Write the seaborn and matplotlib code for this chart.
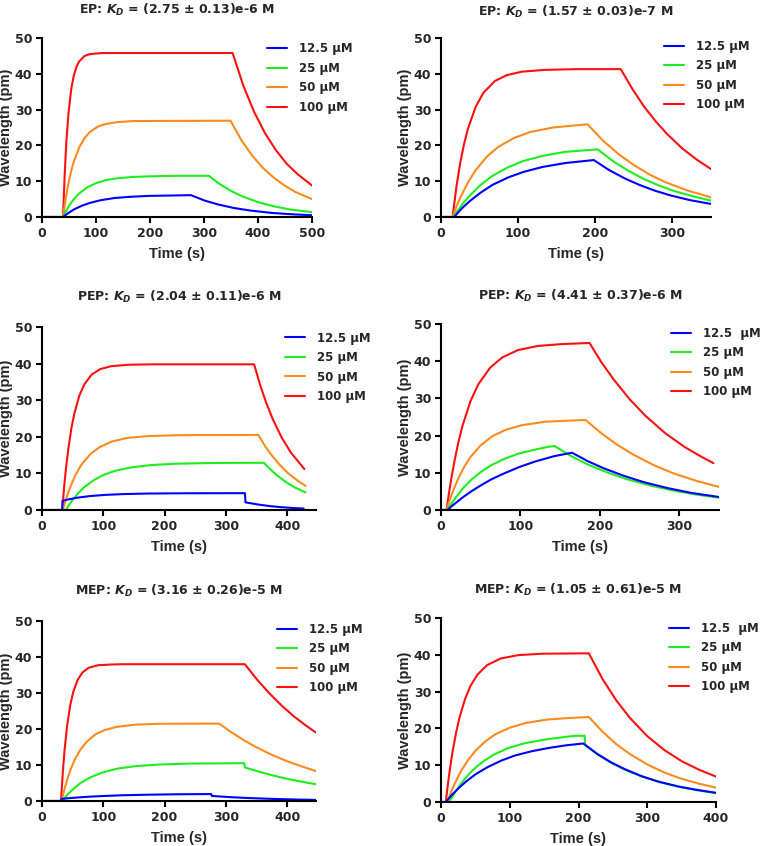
import matplotlib
matplotlib.use("Agg")
import matplotlib.pyplot as plt
import seaborn as sns

# ---- data: (time s, wavelength pm) ----
# EP, left
ep_a_blue = [(0, 0), (39, 0), (49, 1.15), (59, 2.1), (74, 3.16), (89, 3.95), (109, 4.7), (134, 5.3),
             (164, 5.65), (199, 5.9), (239, 6.0), (276, 6.1), (301, 4.6), (326, 3.5), (356, 2.5),
             (386, 1.8), (426, 1.13), (466, 0.73), (500, 0.5)]
ep_a_green = [(0, 0), (39, 0), (49, 2.9), (59, 5.0), (69, 6.6), (84, 8.3), (99, 9.4), (119, 10.35),
              (139, 10.8), (169, 11.2), (209, 11.4), (250, 11.5), (309, 11.5), (329, 9.2), (349, 7.35),
              (369, 5.9), (399, 4.2), (429, 3.0), (459, 2.1), (500, 1.35)]
ep_a_orange = [(0, 0), (39, 0), (44, 5.2), (49, 9.4), (54, 12.8), (59, 15.5), (69, 19.5), (79, 22.1),
               (89, 23.8), (104, 25.3), (119, 26.0), (139, 26.5), (169, 26.8), (349, 26.9), (369, 21.5),
               (389, 17.2), (409, 13.7), (429, 11.0), (449, 8.8), (469, 7.0), (500, 5.0)]
ep_a_red = [(0, 0), (39, 0), (42, 11.9), (45, 20.7), (49, 28.9), (54, 35.6), (59, 39.6), (64, 42.0),
            (69, 43.5), (79, 45.0), (89, 45.5), (110, 45.8), (353, 45.8), (373, 36.6), (393, 29.3),
            (413, 23.4), (433, 18.7), (453, 14.9), (473, 12.0), (500, 8.8)]

# EP, right
ep_b_blue = [(0, 0), (17, 0), (22, 1.2), (27, 2.4), (37, 4.4), (52, 6.9), (67, 9.0), (87, 11.05),
             (107, 12.6), (132, 14.0), (162, 15.1), (198, 15.9), (218, 13.1), (238, 10.8), (258, 8.9),
             (278, 7.3), (298, 6.0), (323, 4.7), (350, 3.65)]
ep_b_green = [(0, 0), (16, 0), (21, 1.6), (26, 3.1), (36, 5.7), (51, 8.9), (66, 11.4), (86, 13.8),
              (106, 15.6), (131, 17.05), (161, 18.2), (203, 18.9), (223, 15.6), (243, 12.9), (263, 10.6),
              (283, 8.75), (303, 7.2), (328, 5.7), (350, 4.6)]
ep_b_orange = [(0, 0), (15, 0), (20, 2.9), (25, 5.4), (35, 9.7), (45, 13.1), (60, 17.0), (75, 19.7),
               (95, 22.1), (115, 23.7), (145, 25.0), (190, 25.9), (210, 21.3), (230, 17.6), (250, 14.5),
               (270, 11.9), (290, 9.8), (320, 7.35), (350, 5.5)]
ep_b_red = [(0, 0), (15, 0), (20, 8.5), (25, 15.2), (30, 20.5), (35, 24.7), (45, 30.8), (55, 34.7),
            (70, 38.0), (85, 39.6), (105, 40.6), (135, 41.1), (175, 41.3), (233, 41.3), (248, 35.8),
            (263, 30.9), (278, 26.8), (293, 23.2), (313, 19.1), (333, 15.8), (350, 13.4)]

# PEP, left
pep_a_blue = [(0, 0), (33, 0), (33.5, 2.5), (43, 2.9), (58, 3.37), (78, 3.8), (103, 4.13), (133, 4.35),
              (173, 4.5), (233, 4.57), (331, 4.6), (332, 2.1), (353, 1.48), (373, 1.04), (393, 0.73),
              (413, 0.51), (427, 0.4)]
pep_a_green = [(0, 0), (39, 0), (44, 1.35), (49, 2.55), (59, 4.6), (69, 6.25), (84, 8.1), (99, 9.5),
               (119, 10.7), (144, 11.6), (179, 12.3), (219, 12.65), (279, 12.85), (362, 12.9), (372, 11.2),
               (382, 9.65), (397, 7.75), (412, 6.2), (430, 4.8)]
pep_a_orange = [(0, 0), (34, 0), (39, 2.9), (44, 5.4), (54, 9.4), (64, 12.3), (79, 15.3), (94, 17.2),
                (114, 18.7), (139, 19.7), (174, 20.2), (224, 20.45), (353, 20.5), (363, 17.7), (373, 15.3),
                (388, 12.3), (403, 9.8), (418, 7.9), (430, 6.6)]
pep_a_red = [(0, 0), (33, 0), (36, 6.1), (39, 11.2), (43, 16.8), (48, 22.4), (53, 26.5), (61, 31.3),
             (69, 34.3), (81, 37.0), (95, 38.5), (113, 39.3), (143, 39.7), (180, 39.8), (346, 39.8),
             (356, 34.1), (366, 29.2), (376, 25.0), (391, 19.8), (406, 15.7), (428, 11.2)]

# PEP, right
pep_b_blue = [(0, 0), (8, 0), (13, 0.93), (18, 1.8), (28, 3.5), (38, 5.0), (50, 6.6), (63, 8.2),
              (78, 9.7), (98, 11.5), (118, 13.0), (143, 14.5), (165, 15.4), (185, 13.1), (205, 11.2),
              (230, 9.2), (255, 7.5), (285, 5.9), (315, 4.6), (350, 3.5)]
pep_b_green = [(0, 0), (8, 0), (11, 1.0), (14, 2.0), (18, 3.2), (28, 5.9), (38, 8.1), (50, 10.2),
               (63, 12.0), (78, 13.6), (98, 15.2), (118, 16.2), (135, 17.0), (143, 17.2), (163, 14.6),
               (183, 12.4), (208, 10.2), (233, 8.35), (263, 6.6), (293, 5.2), (323, 4.1), (350, 3.3)]
pep_b_orange = [(0, 0), (7, 0), (10, 2.0), (13, 3.9), (17, 6.1), (22, 8.6), (29, 11.5), (37, 14.2),
                (50, 17.4), (65, 19.9), (82, 21.6), (102, 22.8), (132, 23.75), (182, 24.2), (202, 20.6),
                (222, 17.5), (242, 14.9), (267, 12.15), (292, 9.9), (322, 7.8), (350, 6.2)]
pep_b_red = [(0, 0), (7, 0), (10, 4.5), (13, 8.5), (17, 13.2), (22, 18.3), (27, 22.6), (37, 29.2),
             (47, 33.8), (62, 38.3), (77, 41.0), (97, 43.0), (122, 44.1), (152, 44.6), (187, 44.9),
             (202, 39.7), (217, 35.2), (237, 29.9), (257, 25.4), (282, 20.7), (307, 16.9), (327, 14.4),
             (343, 12.6)]

# MEP, left
mep_a_blue = [(0, 0), (31, 0), (32, 0.6), (52, 0.9), (77, 1.2), (102, 1.4), (132, 1.6), (172, 1.75),
              (222, 1.87), (276, 1.93), (277, 1.4), (307, 1.07), (337, 0.82), (377, 0.58), (417, 0.4),
              (447, 0.3)]
mep_a_green = [(0, 0), (33, 0), (38, 1.06), (43, 2.0), (53, 3.65), (63, 5.0), (78, 6.5), (98, 7.9),
               (123, 9.0), (153, 9.7), (193, 10.15), (243, 10.4), (330, 10.5), (331, 9.3), (351, 8.3),
               (371, 7.35), (391, 6.5), (416, 5.6), (447, 4.65)]
mep_a_orange = [(0, 0), (32, 0), (37, 3.5), (42, 6.45), (47, 8.9), (54, 11.7), (62, 14.1), (72, 16.3),
                (87, 18.5), (102, 19.7), (122, 20.6), (152, 21.2), (192, 21.45), (289, 21.5), (309, 19.1),
                (329, 16.9), (349, 15.0), (374, 12.9), (399, 11.1), (424, 9.6), (447, 8.3)]
mep_a_red = [(0, 0), (31, 0), (34, 8.1), (37, 14.5), (41, 20.9), (46, 26.6), (51, 30.3), (58, 33.6),
             (66, 35.7), (76, 37.0), (91, 37.7), (111, 37.9), (131, 38.0), (331, 38.0), (351, 33.7),
             (371, 29.9), (391, 26.5), (411, 23.5), (431, 20.9), (447, 19.0)]

# MEP, right
mep_b_blue = [(0, 0), (7, 0), (12, 1.1), (17, 2.15), (27, 4.0), (37, 5.65), (50, 7.5), (67, 9.4),
              (87, 11.2), (107, 12.6), (132, 13.8), (157, 14.7), (182, 15.4), (207, 15.9), (227, 13.1),
              (247, 10.8), (267, 8.95), (292, 7.0), (317, 5.5), (347, 4.15), (372, 3.3), (400, 2.5)]
mep_b_green = [(0, 0), (12, 0), (17, 1.6), (22, 3.1), (32, 5.7), (42, 7.85), (50, 9.3), (62, 11.1),
               (77, 12.9), (97, 14.6), (122, 16.0), (152, 17.0), (182, 17.7), (195, 18.0), (209, 18.0),
               (209.5, 15.5), (229, 12.75), (249, 10.5), (269, 8.65), (294, 6.8), (319, 5.35), (349, 4.0),
               (374, 3.15), (400, 2.4)]
mep_b_orange = [(0, 0), (9, 0), (14, 2.45), (19, 4.6), (29, 8.4), (39, 11.3), (50, 13.9), (64, 16.4),
                (79, 18.4), (100, 20.2), (124, 21.5), (154, 22.4), (184, 22.8), (215, 23.1), (235, 19.1),
                (255, 15.7), (275, 13.0), (300, 10.2), (325, 8.0), (350, 6.3), (375, 5.0), (400, 3.9)]
mep_b_red = [(0, 0), (7, 0), (10, 4.8), (13, 9.0), (17, 13.9), (22, 18.9), (27, 23.0), (35, 28.0),
             (43, 31.6), (53, 34.6), (67, 37.2), (87, 39.0), (112, 39.9), (147, 40.3), (215, 40.4),
             (235, 33.4), (255, 27.6), (275, 22.8), (300, 17.9), (325, 14.1), (350, 11.1), (375, 8.8),
             (400, 6.9)]

titles = ["EP: $K_D$ = (2.75 ± 0.13)e-6 M", "EP: $K_D$ = (1.57 ± 0.03)e-7 M",
          "PEP: $K_D$ = (2.04 ± 0.11)e-6 M", "PEP: $K_D$ = (4.41 ± 0.37)e-6 M",
          "MEP: $K_D$ = (3.16 ± 0.26)e-5 M", "MEP: $K_D$ = (1.05 ± 0.61)e-5 M"]
labels_a = ["12.5 µM", "25 µM", "50 µM", "100 µM"]
labels_b = ["12.5  µM", "25 µM", "50 µM", "100 µM"]
x_max = [500, 350, 447, 350, 447, 400]
x_ticks = [[0, 100, 200, 300, 400, 500], [0, 100, 200, 300], [0, 100, 200, 300, 400],
           [0, 100, 200, 300], [0, 100, 200, 300, 400], [0, 100, 200, 300, 400]]
y_ticks = [0, 10, 20, 30, 40, 50]

curves = [
    [ep_a_blue, ep_a_green, ep_a_orange, ep_a_red],
    [ep_b_blue, ep_b_green, ep_b_orange, ep_b_red],
    [pep_a_blue, pep_a_green, pep_a_orange, pep_a_red],
    [pep_b_blue, pep_b_green, pep_b_orange, pep_b_red],
    [mep_a_blue, mep_a_green, mep_a_orange, mep_a_red],
    [mep_b_blue, mep_b_green, mep_b_orange, mep_b_red],
]
legend_labels = [labels_a, labels_a, labels_a, labels_b, labels_a, labels_b]
colors = ["#0000FF", "#1EEE1E", "#FF8A1E", "#FF1010"]

# ---- layout (pixels: left, top, right, bottom) ----
boxes = [(42, 38, 312, 217), (441, 38, 711, 217), (42, 327, 316, 510),
         (441, 324, 719, 510), (42, 621, 316, 801), (441, 618, 716, 802)]
leg_pos = [(0.833, 0.975), (0.826, 0.99), (0.887, 0.975), (0.827, 0.985), (0.857, 0.99), (0.829, 0.98)]
title_pad = [17.7, 15.6, 19, 17, 19, 17]

sns.set_theme(style="ticks")
plt.rcParams['font.family'] = ['DejaVu Sans']
plt.rcParams['font.weight'] = 'bold'
plt.rcParams['mathtext.fontset'] = 'custom'
plt.rcParams['mathtext.it'] = 'DejaVu Sans:bold:italic'
plt.rcParams['mathtext.rm'] = 'DejaVu Sans:bold'

W, H = 762, 846
fig = plt.figure(figsize=(W / 100, H / 100), dpi=100)

for i in range(6):
    l, t, r, b = boxes[i]
    ax = fig.add_axes([l / W, 1 - b / H, (r - l) / W, (b - t) / H])
    # draw red first so blue ends up on top, like the original
    for j in [3, 2, 1, 0]:
        pts = curves[i][j]
        sns.lineplot(x=[p[0] for p in pts], y=[p[1] for p in pts], ax=ax, color=colors[j],
                     lw=1.5, sort=False, estimator=None, label=legend_labels[i][j])
    handles, labs = ax.get_legend_handles_labels()
    ax.legend(handles[::-1], labs[::-1], loc="upper left", bbox_to_anchor=leg_pos[i],
              frameon=False, prop={'family': 'DejaVu Sans', 'weight': 'bold', 'size': 8.5},
              handlelength=1.7, handletextpad=1.0, labelspacing=0.55, borderpad=0, borderaxespad=0)
    ax.set_xlim(0, x_max[i])
    ax.set_ylim(0, 50)
    ax.set_xticks(x_ticks[i])
    ax.set_yticks(y_ticks)
    ax.set_title(titles[i], fontsize=9, fontweight='bold', pad=title_pad[i])
    ax.set_xlabel("Time (s)", fontsize=10.5, fontweight='bold', labelpad=5,
                  family='Liberation Sans')
    ax.set_ylabel("Wavelength (pm)", fontsize=10.5, fontweight='bold', labelpad=1,
                  family='Liberation Sans')
    sns.despine(ax=ax)
    for s in ["left", "bottom"]:
        ax.spines[s].set_linewidth(1.5)
        ax.spines[s].set_color("black")
    ax.tick_params(axis="both", labelsize=9, width=1.5, length=4, pad=3, color="black")

fig.savefig("out.png", dpi=100)
